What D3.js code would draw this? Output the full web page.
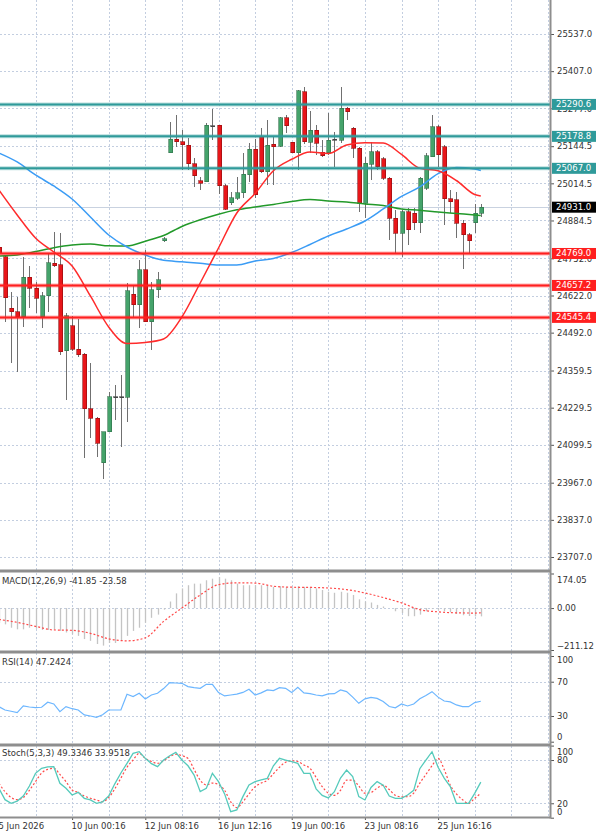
<!DOCTYPE html>
<html><head><meta charset="utf-8">
<script src="https://cdn.jsdelivr.net/npm/d3@7"></script>
<style>
html,body{margin:0;padding:0;background:#fff;}
svg{display:block;}
text{font-family:"DejaVu Sans",sans-serif;}
</style>
</head><body>
<svg id="c" width="600" height="836"></svg>
<script>
// ---------------- DATA ----------------
const firstIndex = -1; // index of first candle
const opens  = [24790.0,24757.8,24577.3,24565.4,24547.9,24685.7,24647.2,24547.9,24621.3,24734.0,24728.8,24427.9,24515.3,24434.8,24416.3,24224.9,24192.4,24037.0,24145.5,24267.9,24267.9,24265.8,24626.2,24588.8,24711.3,24530.4,24641.3,24812.7,25121.7,25168.6,25160.2,25148.6,25082.2,25023.7,25020.2,25215.1,25216.9,25005.2,24945.7,24962.1,24980.7,25043.7,25132.9,25177.7,25055.2,25151.1,25144.1,25243.1,25157.4,25121.7,25335.1,25157.4,25199.4,25122.4,25121.7,25168.6,25166.1,25277.1,25207.1,25137.1,24944.7,25081.1,25125.2,25099.7,25032.1,24892.2,24839.7,24915.3,24909.7,24876.8,24997.1,25107.7,25212.7,25142.7,24959.7,24956.2,24874.7,24833.7,24876.8,24909.7];
const highs  = [25016.7,24763.8,24635.3,24617.8,24757.8,24725.3,24670.3,24635.3,24769.7,24843.2,24839.7,24559.8,24551.4,24539.8,24419.8,24384.8,24198.0,24145.5,24285.4,24308.9,24343.9,24664.7,24658.8,24746.3,24781.2,24670.3,24705.3,24825.0,25230.2,25254.7,25201.1,25173.1,25102.1,25037.7,25224.6,25273.6,25218.6,25012.2,24984.2,25037.7,25120.7,25155.6,25169.6,25207.1,25236.1,25174.9,25247.7,25254.7,25160.2,25341.1,25351.6,25266.6,25218.6,25166.1,25259.6,25195.2,25350.5,25280.6,25212.7,25142.7,25107.7,25160.2,25131.2,25107.7,25037.7,24921.2,24921.2,24927.2,24927.2,25037.7,25119.6,25253.6,25218.6,25148.6,24991.2,24985.2,24886.2,24839.7,24942.2,24942.2];
const lows   = [24760.3,24530.4,24386.9,24355.4,24512.9,24577.3,24559.8,24507.3,24565.4,24721.8,24413.9,24256.4,24427.9,24407.9,24052.4,24122.4,24058.0,23978.9,24145.5,24186.4,24093.0,24180.5,24547.9,24507.3,24530.4,24431.3,24612.2,24810.3,25121.7,25142.7,25062.2,25061.2,25002.7,24992.2,25020.2,25166.1,24977.2,24921.2,24938.7,24956.2,24962.1,25019.2,24962.1,25049.6,25008.7,25008.7,25139.9,25189.6,25119.6,25061.2,25152.1,25119.6,25113.7,25105.6,25113.7,25072.7,25154.6,25236.1,25102.1,24915.3,24892.2,25026.2,25061.2,25026.2,24816.2,24769.7,24757.8,24798.7,24851.2,24839.7,24991.2,25107.7,25072.7,24868.7,24909.7,24822.2,24713.7,24769.7,24839.7,24897.8];
const closes = [24770.0,24613.3,24565.4,24547.9,24685.7,24647.2,24612.2,24621.3,24736.8,24725.3,24425.4,24551.4,24433.8,24413.9,24224.9,24192.4,24104.9,24145.5,24267.9,24267.9,24267.9,24638.8,24588.8,24711.3,24530.4,24641.3,24676.3,24819.7,25169.6,25160.2,25149.7,25082.2,25040.2,25014.6,25217.6,25215.1,25005.2,24923.7,24964.9,24982.4,25045.4,25134.6,24973.7,25055.2,25148.6,25142.7,25243.1,25215.1,25121.7,25337.6,25160.2,25199.4,25154.6,25110.2,25166.1,25168.6,25277.1,25265.2,25137.1,24944.7,25084.6,25125.2,25072.7,25032.1,24892.2,24839.7,24915.3,24851.2,24876.8,25032.1,25110.2,25212.7,25113.7,24959.7,24950.3,24874.7,24833.7,24813.8,24909.7,24931.0];

// moving averages, sampled at these candle indices
const maIdx  = [-1,2,5,8,11,14,17,20,23,26,29,32,35,38,41,44,47,50,53,56,59,62,65,68,71,74,77,78];
const maFast = [24991.2,24903.7,24823.2,24774.3,24725.3,24620.3,24511.8,24454.1,24457.6,24469.8,24546.8,24665.8,24788.2,24910.7,24978.9,25058.7,25098.6,25124.2,25118.9,25148.6,25156.7,25155.6,25115.4,25067.1,25058.4,25024.4,24975.4,24970.2];
const maMid  = [25120.7,25089.2,25043.7,25005.2,24959.7,24896.7,24833.7,24791.7,24763.8,24745.2,24740.0,24734.7,24728.8,24728.8,24742.8,24751.5,24772.5,24800.5,24830.2,24854.7,24882.7,24924.7,24968.5,25002.4,25048.2,25069.9,25064.7,25059.4];
const maSlow = [24760.3,24763.8,24776.0,24789.3,24798.7,24802.2,24795.9,24795.2,24812.1,24832.0,24863.5,24886.9,24906.5,24921.9,24931.7,24940.5,24951.0,24957.9,24952.7,24949.2,24942.2,24936.9,24924.7,24920.5,24914.2,24909.0,24903.7,24902.0];
const macdSignal = [-57,-72,-92,-110,-112,-127,-155,-165,-150,-67,0,66,118,127,126,110,105,104,101,93,76,53,26,-8,-19,-24,-25,-23.58];

// per-candle indicators
const macdHist = [-75,-82,-99,-107,-107,-99,-104,-110,-110,-107,-115,-123,-132,-140,-156,-165,-181,-189,-176,-176,-165,-140,-115,-99,-74,-49,-33,-8,33,74,99,115,123,123,140,148,156,148,140,123,115,115,115,115,115,107,110,107,104,110,107,107,99,91,82,77,82,77,66,44,33,28,16,8,0,-16,-25,-41,-41,-33,-16,-5,-8,-16,-21,-30,-36,-40,-42,-41.85];
const rsi = [40.9,37.0,35.5,33.9,41.7,40.5,39.8,40.2,46.0,44.0,35.1,40.9,38.5,37.0,31.2,30.0,28.5,31.5,37.0,37.0,37.0,55.3,52.6,56.5,49.9,54.5,56.5,62.0,68.9,68.5,68.1,64.3,63.0,62.3,67.0,67.0,57.3,53.4,54.5,55.5,57.5,61.1,54.5,57.0,60.4,59.6,63.1,62.3,57.3,63.5,57.0,56.0,54.5,53.4,55.7,56.0,60.4,58.4,52.0,44.8,50.0,51.8,50.5,47.0,41.0,39.5,44.0,41.7,44.0,50.0,54.0,58.4,52.0,47.5,46.5,42.9,41.0,40.9,45.6,47.24];
const stochK = [40.8,25,20,23,30,44,61.5,68.5,70.5,70.8,47.7,40.8,31.5,35.2,26.9,24.6,20,22,30,47,62,75.4,89.2,91.5,82.3,75,70.8,80,86,90.6,80,72,59.2,36.1,40.8,61.5,50,33,8.4,10.8,29.2,45.4,50,52.3,54.6,72,82.3,80,77.7,75.4,61.5,61.5,40,31,27.5,36,55,66.1,56.9,29.2,24.6,42,50,45,30,26.9,26.9,31.5,38,68,80,91.5,70,55,43.1,20,20,20,33.8,49.33];
const stochD = [47.7,36,28,25,28,38,50,62,67,68.5,60,50,38.5,35,30,27,24.6,22.3,28,40,55,70,80,89.2,82.3,78,75.4,79,84.6,88,86,82.3,67,52,45.4,48,46,38,22,14,22,33,43,48,52,61,70,77,79,78,73,68.5,56,43,34,31,38,52,52,44,34,35,41,45,39,31,29,29.2,34,48,60,72,82.3,67,45,33,25,20,27,33.95];

const priceTicks = [25669.5,25537,25407,25277,25144.5,25014.5,24884.5,24752,24622,24492,24359.5,24229.5,24099.5,23967,23837,23707];
const resistanceLevels = [25290.6,25178.8,25067.0];
const supportLevels = [24769.0,24657.2,24545.4];
const lastPrice = 24931.0;
const macdTicks = [174.05,0,-211.12];
const rsiTicks = [100,70,30,0];
const stochTicks = [100,80,20,0];
const timeIdx = [-1,11,23,35,47,59,71];
const timeText = ["5 Jun 2026","10 Jun 00:16","12 Jun 08:16","16 Jun 12:16","19 Jun 00:16","23 Jun 08:16","25 Jun 16:16"];
const macdTitle = "MACD(12,26,9) -41.85 -23.58";
const rsiTitle = "RSI(14) 47.2424";
const stochTitle = "Stoch(5,3,3) 49.3346 33.9518";

// ---------------- CHART ----------------
const svg = d3.select("#c");
const plotR = 550;
const FS = "8.5px";
const TXT = "#333";
const GRID = "#c3cee0";
const TEAL = "#2f9a9a";
const RED = "#ff1f1f";

const x = d3.scaleLinear().domain([-1, 78]).range([-1.1, 480.8]);
const y = d3.scaleLinear().domain([23707, 25537]).range([557, 34]);
const yM = d3.scaleLinear().domain([-211.12, 174.05]).range([650, 573.5]);
const yR = d3.scaleLinear().domain([0, 100]).range([741.7, 656]);
const yS = d3.scaleLinear().domain([0, 100]).range([817.7, 745.6]);

const panes = [
  {id:"p0", top:0, bottom:570},
  {id:"p1", top:573, bottom:651},
  {id:"p2", top:653, bottom:744},
  {id:"p3", top:746, bottom:817}
];
const defs = svg.append("defs");
panes.forEach(p => defs.append("clipPath").attr("id", p.id)
  .append("rect").attr("x", 0).attr("y", p.top).attr("width", plotR).attr("height", p.bottom - p.top));

svg.append("rect").attr("width", 600).attr("height", 836).attr("fill", "#fff");

// vertical grid
const gridIdx = d3.range(5, 90, 6);
panes.forEach(p => {
  svg.append("g").selectAll("line").data(gridIdx.filter(g => x(g) < plotR - 1)).join("line")
    .attr("x1", d => Math.round(x(d)) + 0.5).attr("x2", d => Math.round(x(d)) + 0.5)
    .attr("y1", p.top).attr("y2", p.bottom)
    .attr("stroke", GRID).attr("stroke-width", 1).attr("stroke-dasharray", "2,2");
});
function hgrid(vals, sc, pane) {
  svg.append("g").attr("clip-path", `url(#${pane})`).selectAll("line").data(vals).join("line")
    .attr("x1", 0).attr("x2", plotR)
    .attr("y1", d => Math.round(sc(d)) + 0.5).attr("y2", d => Math.round(sc(d)) + 0.5)
    .attr("stroke", GRID).attr("stroke-width", 1).attr("stroke-dasharray", "2,2");
}
hgrid(priceTicks, y, "p0");
hgrid([0], yM, "p1");
hgrid([70, 30], yR, "p2");
hgrid([80, 20], yS, "p3");

// ---- main pane ----
const main = svg.append("g").attr("clip-path", "url(#p0)");
// last price line
main.append("line").attr("x1", 0).attr("x2", plotR)
  .attr("y1", Math.round(y(lastPrice)) + 0.5).attr("y2", Math.round(y(lastPrice)) + 0.5)
  .attr("stroke", "#c9d2e0").attr("stroke-width", 1);

const candles = opens.map((o, k) => ({i: k + firstIndex, o, h: highs[k], l: lows[k], c: closes[k]}));
const GREEN = "#45a36b";
const CRED = "#e8161a";
const cg = main.append("g").attr("shape-rendering", "crispEdges");
cg.selectAll("line.w").data(candles).join("line").attr("class", "w")
  .attr("x1", d => Math.round(x(d.i)) + 0.5).attr("x2", d => Math.round(x(d.i)) + 0.5)
  .attr("y1", d => y(d.h)).attr("y2", d => y(d.l))
  .attr("stroke", "#707070").attr("stroke-width", 1);
cg.selectAll("rect.b").data(candles).join("rect").attr("class", "b")
  .attr("x", d => Math.round(x(d.i)) - 1.5)
  .attr("width", 4)
  .attr("y", d => y(Math.max(d.o, d.c)))
  .attr("height", d => Math.max(1, Math.abs(y(d.o) - y(d.c))))
  .attr("fill", d => d.c > d.o ? GREEN : (d.c < d.o ? CRED : "#444"))
  .attr("stroke", d => d.c > d.o ? "#2e6e48" : (d.c < d.o ? "#8a0d0d" : "#444"))
  .attr("stroke-width", 0.6);

// moving averages
const maLine = d3.line().x(d => x(d[0])).y(d => y(d[1])).curve(d3.curveMonotoneX);
[[maSlow, "#22992a"], [maMid, "#3b9cf5"], [maFast, "#ff2b2b"]].forEach(([arr, col]) => {
  main.append("path").datum(maIdx.map((ix, k) => [ix, arr[k]]))
    .attr("d", maLine).attr("fill", "none").attr("stroke", col).attr("stroke-width", 1.5);
});

// horizontal levels
function level(v, col) {
  main.append("line").attr("x1", 0).attr("x2", plotR).attr("y1", y(v)).attr("y2", y(v))
    .attr("stroke", col).attr("stroke-opacity", 0.35).attr("stroke-width", 4);
  main.append("line").attr("x1", 0).attr("x2", plotR).attr("y1", y(v)).attr("y2", y(v))
    .attr("stroke", col).attr("stroke-width", 2);
}
resistanceLevels.forEach(v => level(v, TEAL));
supportLevels.forEach(v => level(v, RED));

// ---- MACD pane ----
const mg = svg.append("g").attr("clip-path", "url(#p1)");
mg.selectAll("line").data(macdHist.map((v, k) => ({i: k + firstIndex, v}))).join("line")
  .attr("x1", d => Math.round(x(d.i)) + 0.5).attr("x2", d => Math.round(x(d.i)) + 0.5)
  .attr("y1", yM(0)).attr("y2", d => yM(d.v))
  .attr("stroke", "#c4c4c4").attr("stroke-width", 1.3);
mg.append("path").datum(maIdx.map((ix, k) => [ix, macdSignal[k]]))
  .attr("d", d3.line().x(d => x(d[0])).y(d => yM(d[1])).curve(d3.curveMonotoneX))
  .attr("fill", "none").attr("stroke", "#ff4a4a").attr("stroke-width", 1.2).attr("stroke-dasharray", "2,2");

// ---- RSI pane ----
svg.append("g").attr("clip-path", "url(#p2)").append("path")
  .datum(rsi.map((v, k) => [k + firstIndex, v]))
  .attr("d", d3.line().x(d => x(d[0])).y(d => yR(d[1])))
  .attr("fill", "none").attr("stroke", "#6cb6ff").attr("stroke-width", 1.2);

// ---- Stoch pane ----
const sg = svg.append("g").attr("clip-path", "url(#p3)");
sg.append("path").datum(stochD.map((v, k) => [k + firstIndex, v]))
  .attr("d", d3.line().x(d => x(d[0])).y(d => yS(d[1])).curve(d3.curveMonotoneX))
  .attr("fill", "none").attr("stroke", "#ff4a4a").attr("stroke-width", 1.2).attr("stroke-dasharray", "2,2");
sg.append("path").datum(stochK.map((v, k) => [k + firstIndex, v]))
  .attr("d", d3.line().x(d => x(d[0])).y(d => yS(d[1])))
  .attr("fill", "none").attr("stroke", "#55cabb").attr("stroke-width", 1.3);

// ---- titles ----
[[macdTitle, 584], [rsiTitle, 664.5], [stochTitle, 755.5]].forEach(([t, yy]) => {
  svg.append("text").attr("x", 2).attr("y", yy).text(t)
    .attr("font-size", FS).attr("fill", TXT);
});

// ---- axes ----
function styleAxis(g) {
  g.select(".domain").remove();
  g.selectAll(".tick line").attr("stroke", "#555");
  g.selectAll(".tick text").attr("font-size", FS).attr("fill", TXT)
    .attr("font-family", "DejaVu Sans, sans-serif");
}
const pa = svg.append("g").attr("transform", `translate(${plotR + 1},0)`)
  .call(d3.axisRight(y).tickValues(priceTicks).tickSize(3).tickPadding(3).tickFormat(d3.format(".1f")));
styleAxis(pa);

function subAxis(sc, ticks, fmt, shiftTop, shiftBottom) {
  const g = svg.append("g").attr("transform", `translate(${plotR + 1},0)`)
    .call(d3.axisRight(sc).tickValues(ticks).tickSize(3).tickPadding(3).tickFormat(fmt));
  styleAxis(g);
  const dom = sc.domain();
  g.selectAll(".tick").filter(d => d === dom[1]).select("text").attr("y", shiftTop);
  g.selectAll(".tick").filter(d => d === dom[0]).select("text").attr("y", shiftBottom);
  return g;
}
subAxis(yM, macdTicks, d3.format(".2f"), 6.5, -4.5);
subAxis(yR, rsiTicks, d3.format("d"), 4, -5);
subAxis(yS, stochTicks, d3.format("d"), 6, -5.5);

// level labels
function tag(v, col, label) {
  const yy = y(v);
  svg.append("rect").attr("x", 552).attr("y", yy - 5.5).attr("width", 44).attr("height", 11).attr("fill", col);
  svg.append("text").attr("x", 556).attr("y", yy).attr("dy", "0.35em").text(label)
    .attr("font-size", FS).attr("fill", "#fff");
}
resistanceLevels.forEach(v => tag(v, TEAL, d3.format(".1f")(v)));
supportLevels.forEach(v => tag(v, RED, d3.format(".1f")(v)));
tag(lastPrice, "#000", d3.format(".1f")(lastPrice));

// time axis
const ta = svg.append("g").attr("transform", "translate(0,817)")
  .call(d3.axisBottom(x).tickValues(timeIdx).tickSize(3).tickPadding(3)
    .tickFormat((d, k) => timeText[k]));
styleAxis(ta);
ta.selectAll(".tick text").attr("text-anchor", "start").attr("x", -1);

// separators
const SEP = "#8e8e8e";
[[571, 3], [652, 3], [745, 3], [817.5, 2]].forEach(([yy, w]) => {
  svg.append("line").attr("x1", 0).attr("x2", plotR + 1).attr("y1", yy).attr("y2", yy)
    .attr("stroke", SEP).attr("stroke-width", w);
});
svg.append("line").attr("x1", plotR + 0.5).attr("x2", plotR + 0.5).attr("y1", 0).attr("y2", 818.5)
  .attr("stroke", SEP).attr("stroke-width", 2);
</script>
</body></html>
